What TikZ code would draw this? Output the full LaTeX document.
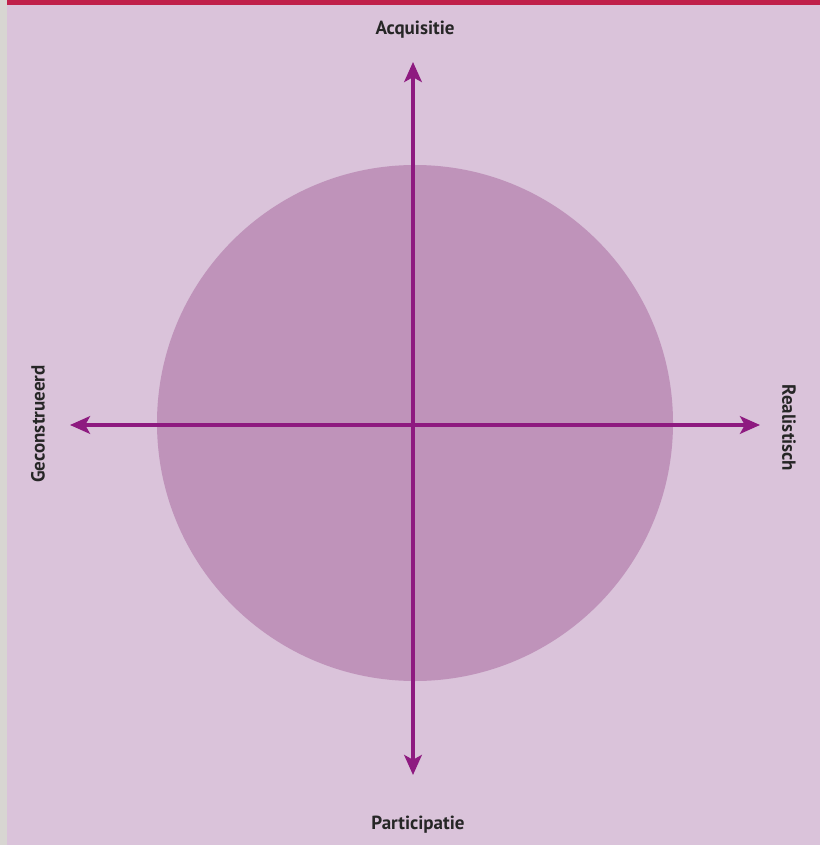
\documentclass[tikz,border=0pt]{standalone}
\usepackage{fontspec}
\setsansfont{PT Sans}
\usepackage{tikz}
\usetikzlibrary{arrows.meta}
\definecolor{paper}{HTML}{DAC3DA}
\definecolor{disc}{HTML}{BF93BA}
\definecolor{axis}{HTML}{8E1A80}
\definecolor{rule}{HTML}{C0204A}
\definecolor{strip}{HTML}{D8D6D2}

\begin{document}
\begin{tikzpicture}[
  x=0.025cm, y=-0.025cm,
  font=\sffamily\bfseries\fontsize{13.5}{16}\selectfont,
  pole/.style={text=black!85, inner sep=0pt},
  axisline/.style={draw=axis, line width=2.5pt,
                   {Stealth[length=5mm, width=4.4mm, inset=1.2mm]}-{Stealth[length=5mm, width=4.4mm, inset=1.2mm]}}
]

% background, left strip and top rule
\fill[strip] (0,0) rectangle (820,845);
\fill[paper] (7,0) rectangle (820,845);
\fill[rule] (7,0) rectangle (820,5);
\useasboundingbox (0,0) rectangle (820,845);

% the disc
\fill[disc] (415,423) circle[radius=258];

% axis ends
\coordinate (top) at (413,62);
\coordinate (bottom) at (413,775);
\coordinate (left) at (70,425);
\coordinate (right) at (760,425);

\draw[axisline] (top) -- (bottom);
\draw[axisline] (left) -- (right);

% the four poles
\node[pole] (acq) at (415,30) {Acquisitie};
\node[pole] (part) at (418,825) {Participatie};
\node[pole, rotate=90] (gecon) at (38,424) {Geconstrueerd};
\node[pole, rotate=-90] (real) at (789,428) {Realistisch};

\end{tikzpicture}
\end{document}
